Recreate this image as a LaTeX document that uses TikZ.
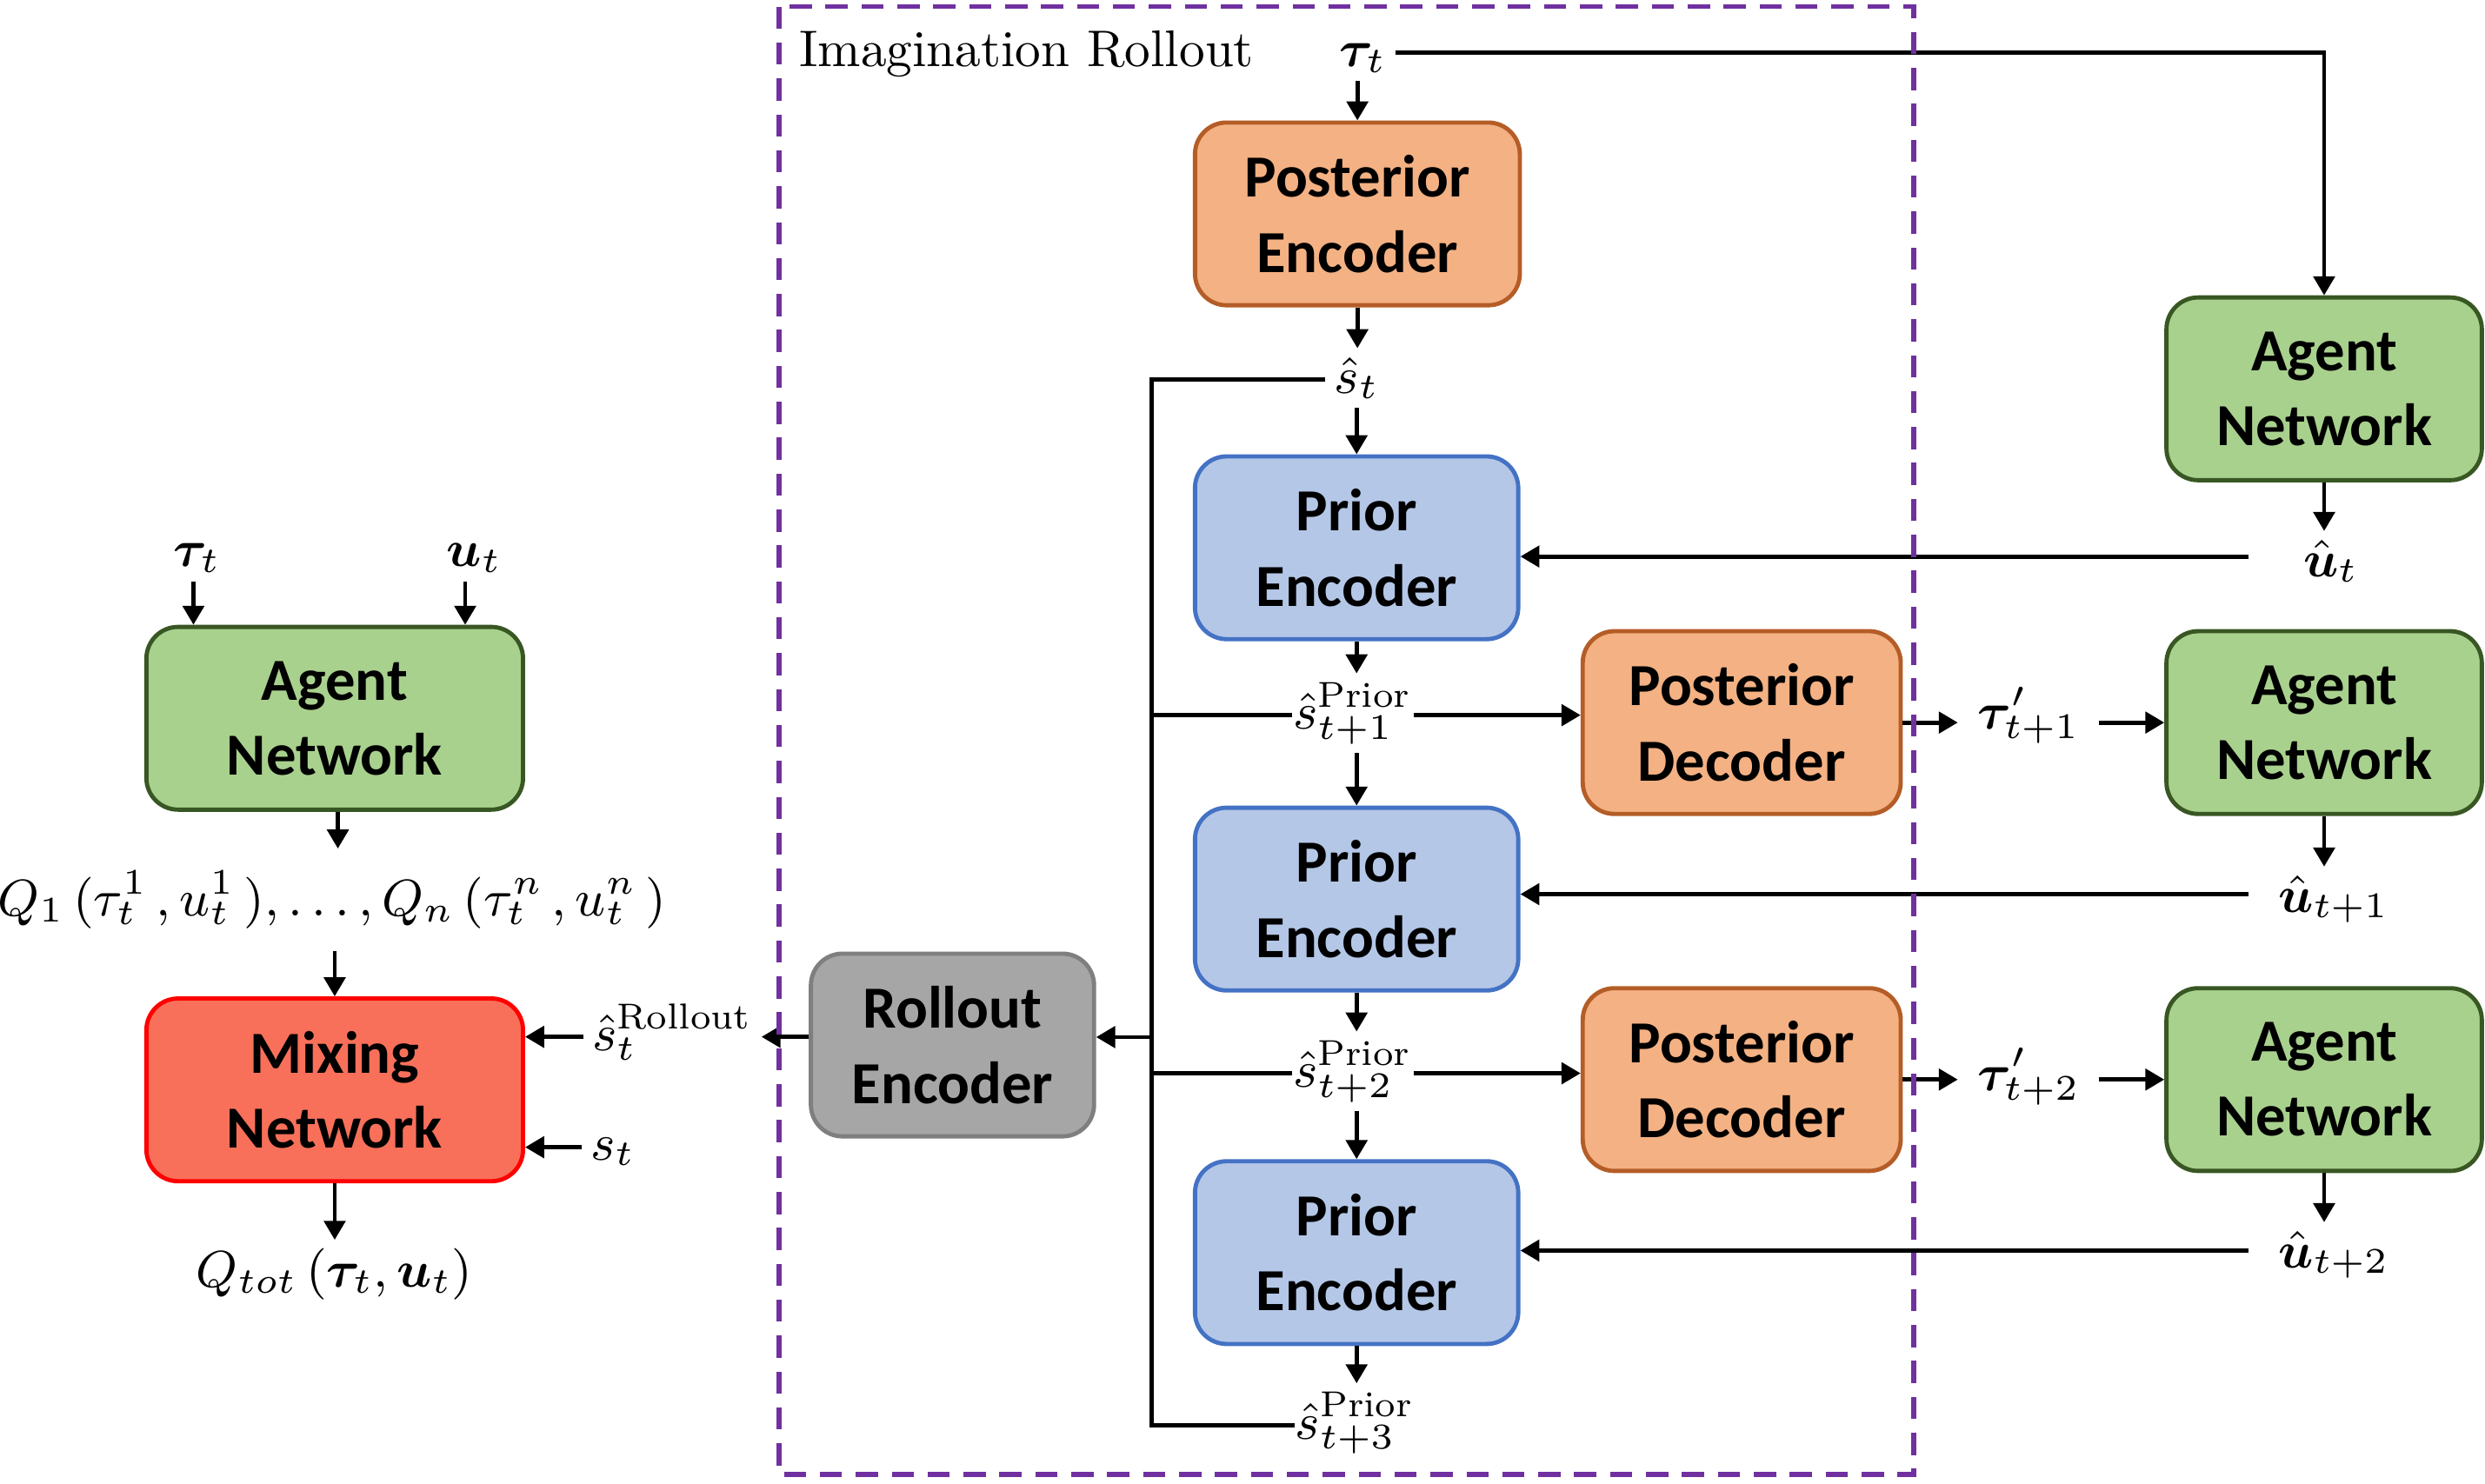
\RequirePackage{fix-cm}
\documentclass[tikz,border=0pt]{standalone}
\usepackage{amsmath,bm}
\usepackage{fontspec}
\newfontfamily\boxfont{Carlito}
\usetikzlibrary{arrows.meta,calc}
\definecolor{orfill}{HTML}{F4B183}
\definecolor{ordraw}{HTML}{B55D27}
\definecolor{blfill}{HTML}{B4C7E7}
\definecolor{bldraw}{HTML}{4472C4}
\definecolor{grfill}{HTML}{A9D18E}
\definecolor{grdraw}{HTML}{385723}
\definecolor{rdfill}{HTML}{F8705A}
\definecolor{rddraw}{HTML}{FF0000}
\definecolor{gyfill}{HTML}{A6A6A6}
\definecolor{gydraw}{HTML}{7F7F7F}
\definecolor{purp}{HTML}{7030A0}
\begin{document}
\begin{tikzpicture}[x=0.3pt,y=-0.3pt,
  box/.style={rounded corners=6pt, line width=0.8pt, minimum width=#1,
    minimum height=34.6pt, inner sep=0pt, align=center,
    font={\boxfont\bfseries\fontsize{11.3}{14.2}\selectfont}},
  post/.style={box=#1, draw=ordraw, fill=orfill},
  prior/.style={box=61.2pt, draw=bldraw, fill=blfill},
  agent/.style={box=#1, draw=grdraw, fill=grfill},
  lbl/.style={inner sep=1.5pt, font={\fontsize{9.75}{12}\selectfont}},
  arr/.style={-{Triangle[length=3.6pt,width=4pt]}, line width=0.8pt},
  ln/.style={line width=0.8pt},
]
\useasboundingbox (0,0) rectangle (1568,936);

% boxes
\node[post=61.5pt] (pe) at (856.5,135) {Posterior\\Encoder};
\node[prior] (pr1) at (856,345.7) {Prior\\Encoder};
\node[prior] (pr2) at (856,567.4) {Prior\\Encoder};
\node[prior] (pr3) at (856,790.5) {Prior\\Encoder};
\node[post=60.2pt] (dec1) at (1099,456) {Posterior\\Decoder};
\node[post=60.2pt] (dec2) at (1099,681.3) {Posterior\\Decoder};
\node[agent=59.7pt] (an1) at (1466.5,245.4) {Agent\\Network};
\node[agent=59.7pt] (an2) at (1466.5,456) {Agent\\Network};
\node[agent=59.7pt] (an3) at (1466.5,681.3) {Agent\\Network};
\node[box=53.6pt, draw=gydraw, fill=gyfill] (re) at (601,659.5) {Rollout\\Encoder};
\node[agent=71.3pt] (anL) at (211.2,453.3) {Agent\\Network};
\node[box=71.3pt, draw=rddraw, fill=rdfill] (mix) at (211.2,687.8) {Mixing\\Network};

% labels
\node[lbl, anchor=base west, inner sep=0pt] (title) at (503.8,41.9) {Imagination Rollout};
\node[lbl, anchor=base] (tauT) at (860,42) {$\bm{\tau}_t$};
\node[lbl, anchor=base] (st) at (856,248) {$\hat{s}_t$};
\node[lbl, anchor=base, inner xsep=0pt] (sp1) at (853.6,460) {$\hat{s}^{\mathrm{Prior}}_{t+1}$};
\node[lbl, anchor=base, inner xsep=0pt] (sp2) at (853.6,686) {$\hat{s}^{\mathrm{Prior}}_{t+2}$};
\node[lbl, anchor=base, inner xsep=0pt] (sp3) at (855,908) {$\hat{s}^{\mathrm{Prior}}_{t+3}$};
\node[lbl, anchor=base] (ut) at (1470.7,363.8) {$\hat{\bm{u}}_t$};
\node[lbl, anchor=base] (u1) at (1472.6,575.6) {$\hat{\bm{u}}_{t+1}$};
\node[lbl, anchor=base] (u2) at (1472.6,800) {$\hat{\bm{u}}_{t+2}$};
\node[lbl, anchor=base, inner xsep=3.5pt] (tp1) at (1280,460) {$\bm{\tau}'_{t+1}$};
\node[lbl, anchor=base, inner xsep=3.5pt] (tp2) at (1280,688) {$\bm{\tau}'_{t+2}$};
\node[lbl, anchor=base] (tauL) at (124.4,357.5) {$\bm{\tau}_t$};
\node[lbl, anchor=base] (uL) at (299.2,357.5) {$\bm{u}_t$};
\node[lbl, anchor=base, inner ysep=4pt] (Q) at (209.4,578)
  {$Q_1\,(\tau_t^{1}\,,u_t^{1}\,),\ldots,Q_n\,(\tau_t^{n}\,,u_t^{n}\,)$};
\node[lbl, anchor=base] (Qt) at (211,812.5) {$Q_{tot}\,(\bm{\tau}_t,\bm{u}_t)$};
\node[lbl, anchor=base west] (sr) at (368,663) {$\hat{s}_t^{\mathrm{Rollout}}$};
\node[lbl, anchor=base west] (sL) at (367,732) {$s_t$};

\coordinate (bus) at (726.7,0);
\coordinate (u0e) at (1418.8,351.2);
\coordinate (u1e) at (1418.8,564.3);
\coordinate (u2e) at (1418.8,789.2);

% imagination column
\draw[arr] (pe.north |- tauT.south) -- (pe.north);
\draw[arr] ([yshift=2.6pt]tauT.base east) -| (an1.north);
\draw[arr] (pe.south) -- (pe.south |- st.north);
\draw[arr] (st.south -| pr1.north) -- (pr1.north);
\draw[arr] (pr1.south) -- (pr1.south |- sp1.north);
\draw[arr] (sp1.south -| pr2.north) -- (pr2.north);
\draw[arr] (pr2.south) -- (pr2.south |- sp2.north);
\draw[arr] (sp2.south -| pr3.north) -- (pr3.north);
\draw[arr] (pr3.south) -- (pr3.south |- sp3.north);

% bus to rollout encoder
\draw[ln] ([yshift=2.6pt]st.base west) -- ([yshift=2.6pt]st.base west -| bus)
  -- ([yshift=2.6pt]sp3.base west -| bus) -- ([yshift=2.6pt]sp3.base west);
\draw[ln] ([yshift=2.6pt]sp1.base west) -- ([yshift=2.6pt]sp1.base west -| bus);
\draw[ln] ([yshift=2.6pt]sp2.base west) -- ([yshift=2.6pt]sp2.base west -| bus);
\draw[arr] ([yshift=1.5pt]re.east -| bus) -- ([yshift=1.5pt]re.east);

% to decoders and agents
\draw[arr] ([yshift=2.6pt]sp1.base east) -- ([yshift=2.6pt]sp1.base east -| dec1.west);
\draw[arr] ([yshift=2.6pt]sp2.base east) -- ([yshift=2.6pt]sp2.base east -| dec2.west);
\draw[arr] (dec1.east) -- (dec1.east -| tp1.west);
\draw[arr] (dec2.east) -- (dec2.east -| tp2.west);
\draw[arr] (an2.west -| tp1.east) -- (an2.west);
\draw[arr] (an3.west -| tp2.east) -- (an3.west);
\draw[arr] (an1.south) -- (an1.south |- ut.north);
\draw[arr] (an2.south) -- (an2.south |- u1.north);
\draw[arr] (an3.south) -- (an3.south |- u2.north);
\draw[arr] (u0e) -- (u0e -| pr1.east);
\draw[arr] (u1e) -- (u1e -| pr2.east);
\draw[arr] (u2e) -- (u2e -| pr3.east);

% left part
\draw[arr] ([yshift=2.6pt]sr.base east -| re.west) -- ([yshift=2.6pt]sr.base east);
\draw[arr] ([yshift=2.6pt]sr.base west) -- ([yshift=2.6pt]sr.base west -| mix.east);
\draw[arr] ([yshift=2.4pt]sL.base west) -- ([yshift=2.4pt]sL.base west -| mix.east);
\draw[arr] ([xshift=-0.7pt]tauL.south) -- ([xshift=-0.7pt]tauL.south |- anL.north);
\draw[arr] ([xshift=-1.7pt]uL.south) -- ([xshift=-1.7pt]uL.south |- anL.north);
\draw[arr] ([xshift=0.6pt]anL.south) -- ([xshift=0.6pt]anL.south |- Q.north);
\draw[arr] (Q.south -| mix.north) -- (mix.north);
\draw[arr] (mix.south) -- (mix.south |- Qt.north);

% imagination rollout frame
\draw[purp, line width=0.9pt, dash pattern=on 4.2pt off 2.6pt] (491.6,4.2) rectangle (1207.6,930.5);
\end{tikzpicture}
\end{document}
